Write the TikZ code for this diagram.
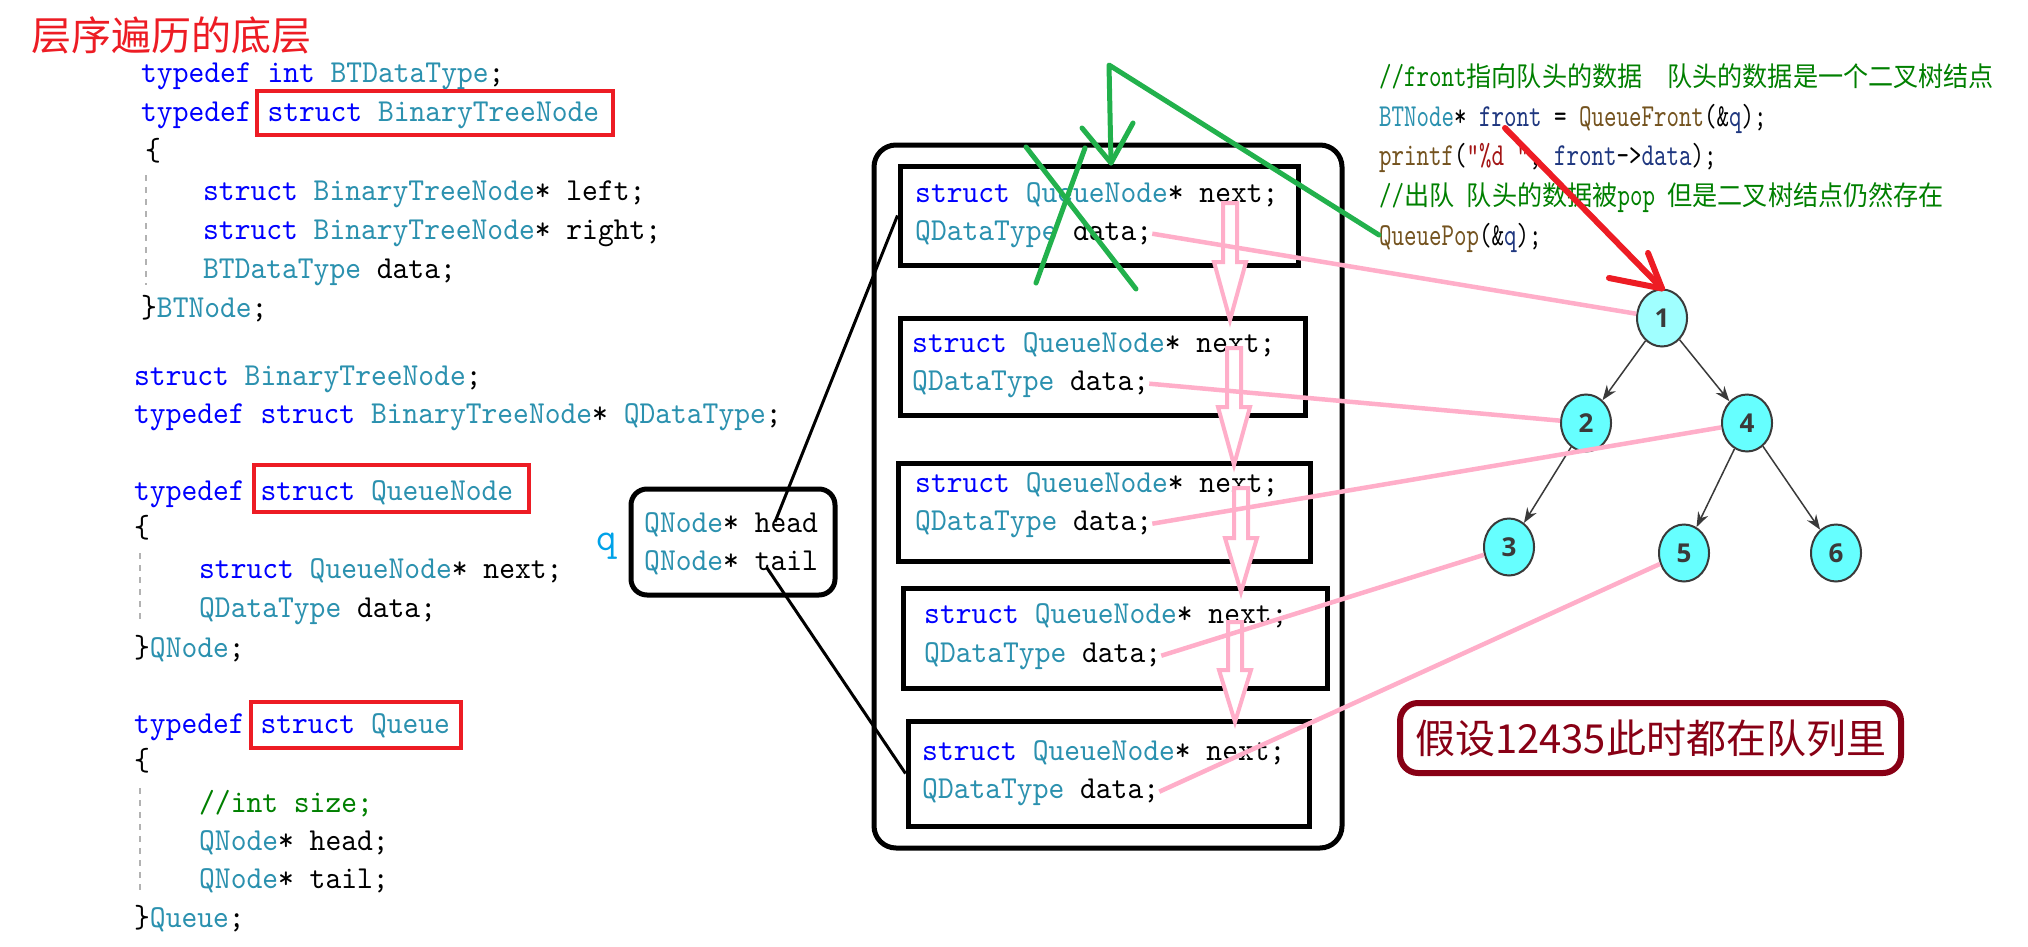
\documentclass[tikz,border=0pt]{standalone}
\usepackage{fontspec}
\usepackage{tikz}
\usepackage{xcolor}
\usetikzlibrary{shapes.geometric,arrows.meta}

\newfontfamily\cjkfont{Noto Sans CJK SC}
\newfontfamily\cjknarrow{Noto Sans CJK SC}[FakeStretch=0.93]
\newfontfamily\treefont{Open Sans}
\newfontfamily\codett{lmmono10-regular.otf}[FakeStretch=0.94]
\newfontfamily\smalltt{lmmono10-regular.otf}[FakeStretch=0.744]

\definecolor{kwblue}{RGB}{0,0,255}
\definecolor{tyteal}{RGB}{43,145,175}
\definecolor{cmgreen}{RGB}{0,128,0}
\definecolor{fnbrown}{RGB}{116,83,31}
\definecolor{varnavy}{RGB}{31,55,127}
\definecolor{strred}{RGB}{163,21,21}
\definecolor{boxred}{RGB}{237,28,36}
\definecolor{markgreen}{RGB}{34,177,76}
\definecolor{linkpink}{RGB}{255,174,201}
\definecolor{labelred}{RGB}{136,0,21}
\definecolor{qblue}{RGB}{0,162,232}
\definecolor{nodecyan}{RGB}{102,255,255}
\definecolor{rootcyan}{RGB}{160,255,255}
\definecolor{edgegray}{RGB}{58,58,58}

\newcommand{\codefont}{\codett\fontsize{32}{38}\selectfont}
\newcommand{\smallcode}{\smalltt\fontsize{32}{38}\selectfont}
\newcommand{\rcjk}{\cjknarrow\fontsize{27}{32}\selectfont}
\newcommand{\kwd}[1]{\textcolor{kwblue}{#1}}
\newcommand{\tyn}[1]{\textcolor{tyteal}{#1}}
\newcommand{\nextarrow}[4]{%
  \draw[nextline] (#1-7,#2) -- (#1+7,#2) -- (#1+7,#3) -- (#1+16,#3) -- (#1,#4)
    -- (#1-16,#3) -- (#1-7,#3) -- cycle;}

\begin{document}
\begin{tikzpicture}[x=1pt,y=-1pt,
    code/.style={anchor=base west,inner sep=0pt,font=\codefont},
    rcode/.style={anchor=base west,inner sep=0pt,font=\smallcode},
    redbox/.style={draw=boxred,line width=4pt},
    guide/.style={draw=black!30,line width=1.5pt,dash pattern=on 6pt off 6pt},
    qbox/.style={draw,line width=5pt,inner sep=0pt},
    ptrline/.style={draw,line width=3pt},
    nextline/.style={draw=linkpink,line width=4pt,fill=white},
    dataline/.style={draw=linkpink,line width=4.5pt},
    tnode/.style={ellipse,draw=edgegray,line width=2pt,fill=nodecyan,minimum width=50pt,
      minimum height=57pt,inner sep=0pt,font=\treefont\bfseries\fontsize{26}{30}\selectfont,text=edgegray},
    tedge/.style={draw=edgegray,line width=1.5pt,-{Stealth[length=15pt,width=11pt]}},
    greenmark/.style={draw=markgreen,line width=5pt,line cap=round,line join=round},
    redmark/.style={draw=boxred,line width=6pt,line cap=round,line join=round}]
            \fill[white] (0,0) rectangle (2028,947);
            \useasboundingbox (0,0) rectangle (2028,947);

            \node[anchor=west,inner sep=0pt,text=boxred,font=\cjkfont\fontsize{40}{48}\selectfont] (title) at (31,35) {层序遍历的底层};

            \node[code] (l1) at (141,83) {\kwd{typedef} \kwd{int} \tyn{BTDataType};};
            \node[code] (l2) at (141,122) {\kwd{typedef} \kwd{struct} \tyn{BinaryTreeNode}};
            \node[code] (l3) at (145,160) {\{};
            \node[code] (l4) at (203,200) {\kwd{struct} \tyn{BinaryTreeNode}* left;};
            \node[code] (l5) at (203,239) {\kwd{struct} \tyn{BinaryTreeNode}* right;};
            \node[code] (l6) at (203,278) {\tyn{BTDataType} data;};
            \node[code] (l7) at (141,317) {\}\tyn{BTNode};};
            \node[code] (l8) at (134,385) {\kwd{struct} \tyn{BinaryTreeNode};};
            \node[code] (l9) at (134,423) {\kwd{typedef} \kwd{struct} \tyn{BinaryTreeNode}* \tyn{QDataType};};
            \node[code] (l10) at (134,500) {\kwd{typedef} \kwd{struct} \tyn{QueueNode}};
            \node[code] (l11) at (134,537) {\{};
            \node[code] (l12) at (199,578) {\kwd{struct} \tyn{QueueNode}* next;};
            \node[code] (l13) at (199,617) {\tyn{QDataType} data;};
            \node[code] (l14) at (134,657) {\}\tyn{QNode};};
            \node[code] (l15) at (134,733) {\kwd{typedef} \kwd{struct} \tyn{Queue}};
            \node[code] (l16) at (134,770) {\{};
            \node[code] (l17) at (199,812) {\textcolor{cmgreen}{//int size;}};
            \node[code] (l18) at (199,850) {\tyn{QNode}* head;};
            \node[code] (l19) at (199,888) {\tyn{QNode}* tail;};
            \node[code] (l20) at (134,927) {\}\tyn{Queue};};

            \draw[redbox] (257,91) rectangle (613,135);
            \draw[redbox] (254,465) rectangle (529,512);
            \draw[redbox] (251,702) rectangle (461,748);
            \draw[guide] (146,175) -- (146,285);
            \draw[guide] (140,553) -- (140,620);
            \draw[guide] (140,788) -- (140,895);

            \node[qbox,rounded corners=22pt,minimum width=468pt,minimum height=703pt] (queue) at (1108,496.5) {};
            \node[qbox,minimum width=398pt,minimum height=99pt] (qn1) at (1099,215.5) {};
            \node[qbox,minimum width=405pt,minimum height=97pt] (qn2) at (1102.5,366.5) {};
            \node[qbox,minimum width=412pt,minimum height=98pt] (qn3) at (1104,512) {};
            \node[qbox,minimum width=424pt,minimum height=100pt] (qn4) at (1115,638) {};
            \node[qbox,minimum width=401pt,minimum height=105pt] (qn5) at (1108.5,773.5) {};

            \node[code] (qs1) at (915,202) {\kwd{struct} \tyn{QueueNode}* next;};
            \node[code] (qd1) at (915,240) {\tyn{QDataType} data;};
            \node[code] (qs2) at (912,352) {\kwd{struct} \tyn{QueueNode}* next;};
            \node[code] (qd2) at (912,390) {\tyn{QDataType} data;};
            \node[code] (qs3) at (915,492) {\kwd{struct} \tyn{QueueNode}* next;};
            \node[code] (qd3) at (915,530) {\tyn{QDataType} data;};
            \node[code] (qs4) at (924,623) {\kwd{struct} \tyn{QueueNode}* next;};
            \node[code] (qd4) at (924,662) {\tyn{QDataType} data;};
            \node[code] (qs5) at (922,760) {\kwd{struct} \tyn{QueueNode}* next;};
            \node[code] (qd5) at (922,798) {\tyn{QDataType} data;};

            \node[qbox,rounded corners=16pt,minimum width=204pt,minimum height=106pt] (qstruct) at (733,542) {};
            \node[code] (qhead) at (644,532) {\tyn{QNode}* head};
            \node[code] (qtail) at (644,570) {\tyn{QNode}* tail};
            \node[anchor=base,inner sep=0pt,text=qblue,font=\ttfamily\fontsize{40}{46}\selectfont] (qname) at (607,550) {q};

            \coordinate (headpt) at (775,522);
            \coordinate (tailpt) at (767,568);
            \draw[ptrline] (headpt) -- (qn1.west);
            \draw[ptrline] (tailpt) -- (qn5.west);

            \nextarrow{1230}{203}{262}{320}
            \nextarrow{1234}{348}{407}{465}
            \nextarrow{1241}{488}{538}{592}
            \nextarrow{1235}{622}{670}{722}

            \node[tnode,fill=rootcyan] (t1) at (1662,318) {1};
            \node[tnode] (t2) at (1586,423) {2};
            \node[tnode] (t4) at (1747,423) {4};
            \node[tnode] (t3) at (1509,547) {3};
            \node[tnode] (t5) at (1684,553) {5};
            \node[tnode] (t6) at (1836,553) {6};
            \draw[tedge] (t1) -- (t2);
            \draw[tedge] (t1) -- (t4);
            \draw[tedge] (t2) -- (t3);
            \draw[tedge] (t4) -- (t5);
            \draw[tedge] (t4) -- (t6);

            \draw[dataline] (qd1.east) -- (t1);
            \draw[dataline] (qd2.east) -- (t2);
            \draw[dataline] (qd3.east) -- (t4);
            \draw[dataline] (qd4.east) -- (t3);
            \draw[dataline] (qd5.east) -- (t5);

            \node[rcode] (c1) at (1379,87) {\textcolor{cmgreen}{//front{\rcjk 指向队头的数据}\ \ {\rcjk 队头的数据是一个二叉树结点}}};
            \node[rcode] (c2) at (1379,127) {\tyn{BTNode}* \textcolor{varnavy}{front} = \textcolor{fnbrown}{QueueFront}(\&\textcolor{varnavy}{q});};
            \node[rcode] (c3) at (1379,165) {\textcolor{fnbrown}{printf}(\textcolor{strred}{"\%d "}, \textcolor{varnavy}{front}->\textcolor{varnavy}{data});};
            \node[rcode] (c4) at (1379,205) {\textcolor{cmgreen}{//{\rcjk 出队} {\rcjk 队头的数据被}pop {\rcjk 但是二叉树结点仍然存在}}};
            \node[rcode] (c5) at (1379,245) {\textcolor{fnbrown}{QueuePop}(\&\textcolor{varnavy}{q});};

            \draw[greenmark] (1026,147) -- (1136,289);
            \draw[greenmark] (1085,148) -- (1036,283);
            \draw[greenmark] (1379,235) -- (1109,65) -- (1111,163);
            \draw[greenmark] (1082,128) -- (1111,163) -- (1133,123);

            \coordinate (frontpt) at (1505,128);
            \draw[redmark] (frontpt) -- (t1.north);
            \draw[redmark] (1609,278) -- (t1.north) -- (1648,253);

            \node[draw=labelred,line width=6pt,rounded corners=18pt,minimum width=501pt,minimum height=70pt,
              inner sep=0pt,text=labelred,font=\cjkfont\fontsize{40}{48}\selectfont] (note) at (1650.5,738) {假设12435此时都在队列里};
\end{tikzpicture}
\end{document}
